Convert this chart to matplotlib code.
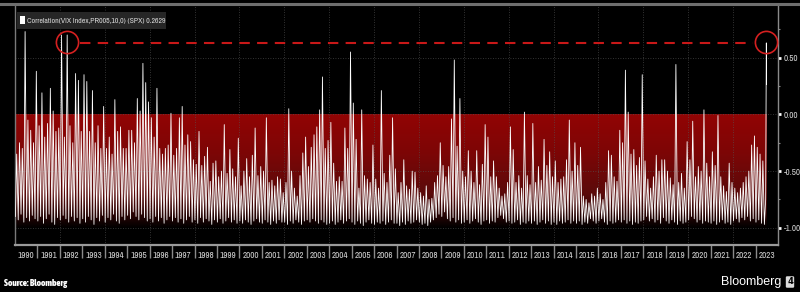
import numpy as np
import matplotlib.pyplot as plt
from matplotlib import font_manager
from matplotlib.font_manager import FontProperties
from matplotlib.colors import LinearSegmentedColormap
from matplotlib.lines import Line2D
from matplotlib.patches import Rectangle

# =========================
# Dados (8 blocos por ano: pico e vale de cada bloco)
# =========================
ano_inicial = 1990
anos_rotulo = list(range(1990, 2024))

picos_1990s = [
    [-0.35, -0.25, -0.30, 0.73, -0.05, -0.14, -0.25, 0.38],
    [-0.10, 0.19, -0.20, -0.08, 0.23, 0.03, -0.15, -0.12],
    [0.70, -0.20, 0.70, -0.10, -0.25, 0.36, 0.30, -0.15],
    [0.35, 0.29, -0.15, 0.21, -0.25, -0.10, -0.30, 0.07],
    [-0.30, -0.20, -0.35, 0.13, -0.15, -0.11, -0.30, -0.30],
    [-0.14, -0.14, -0.25, 0.14, 0.03, 0.45, 0.28, 0.11],
    [-0.03, -0.20, 0.23, -0.30, -0.35, -0.30, -0.27, 0.01],
    [-0.36, -0.30, -0.03, 0.07, -0.27, -0.18, -0.24, -0.40],
    [-0.44, -0.15, -0.45, -0.37, -0.29, -0.59, -0.43, -0.41],
    [-0.55, -0.50, -0.09, -0.52, -0.31, -0.48, -0.55, -0.21],
]
picos_2000s = [
    [-0.63, -0.50, -0.39, -0.55, -0.36, -0.12, -0.54, -0.46],
    [-0.50, -0.03, -0.60, -0.58, -0.63, -0.55, -0.57, -0.69],
    [-0.60, 0.05, -0.50, -0.65, -0.72, -0.54, -0.34, -0.20],
    [-0.46, -0.29, -0.18, -0.11, 0.04, 0.33, -0.30, -0.23],
    [-0.07, -0.43, -0.59, -0.55, -0.59, -0.12, -0.30, 0.55],
    [0.10, -0.22, -0.65, 0.04, -0.54, -0.57, -0.60, -0.27],
    [-0.57, -0.65, 0.21, -0.52, -0.60, -0.36, -0.03, -0.48],
    [-0.69, -0.60, -0.40, -0.63, -0.66, -0.50, -0.51, -0.65],
    [-0.69, -0.72, -0.63, -0.75, -0.74, -0.60, -0.54, -0.25],
    [-0.45, -0.55, -0.46, -0.04, 0.48, -0.28, 0.14, -0.50],
]
picos_2010s = [
    [-0.55, -0.32, -0.50, -0.60, -0.32, -0.62, -0.44, -0.09],
    [-0.20, -0.55, -0.41, -0.55, -0.65, -0.72, -0.70, -0.60],
    [-0.11, -0.31, -0.60, -0.54, -0.65, 0.02, -0.54, -0.62],
    [-0.08, -0.60, -0.46, -0.58, -0.22, -0.45, -0.33, -0.55],
    [-0.41, -0.60, -0.57, -0.55, -0.40, -0.05, -0.50, -0.25],
    [-0.45, -0.29, -0.72, -0.75, -0.78, -0.70, -0.72, -0.65],
    [-0.70, -0.75, -0.60, -0.32, -0.36, -0.55, -0.59, -0.14],
    [-0.25, 0.39, 0.02, -0.35, -0.31, -0.45, -0.38, 0.35],
    [-0.41, -0.57, -0.65, -0.55, -0.36, -0.50, -0.40, -0.40],
    [-0.50, -0.56, -0.62, 0.44, -0.60, -0.52, -0.65, -0.24],
]
picos_2020s = [
    [-0.40, -0.06, -0.55, -0.46, -0.50, 0.04, -0.43, -0.55],
    [-0.33, -0.45, -0.01, -0.55, -0.63, -0.68, -0.43, -0.60],
    [-0.65, -0.69, -0.65, -0.60, -0.55, -0.50, -0.27, -0.19],
    [-0.29, -0.35, -0.41, -0.75],
]

vales_1990s = [
    [-0.90, -0.93, -0.88, -0.95, -0.91, -0.94, -0.89, -0.92],
    [-0.94, -0.90, -0.96, -0.92, -0.88, -0.95, -0.97, -0.91],
    [-0.93, -0.89, -0.92, -0.95, -0.90, -0.94, -0.91, -0.96],
    [-0.92, -0.95, -0.90, -0.93, -0.97, -0.91, -0.94, -0.89],
    [-0.95, -0.91, -0.93, -0.88, -0.94, -0.96, -0.90, -0.93],
    [-0.89, -0.92, -0.86, -0.90, -0.93, -0.88, -0.91, -0.94],
    [-0.92, -0.95, -0.90, -0.94, -0.91, -0.96, -0.93, -0.90],
    [-0.94, -0.91, -0.95, -0.92, -0.96, -0.93, -0.90, -0.95],
    [-0.93, -0.96, -0.91, -0.95, -0.92, -0.94, -0.97, -0.93],
    [-0.95, -0.92, -0.96, -0.94, -0.91, -0.95, -0.93, -0.96],
]
vales_2000s = [
    [-0.94, -0.96, -0.93, -0.95, -0.97, -0.94, -0.92, -0.95],
    [-0.96, -0.93, -0.95, -0.97, -0.94, -0.96, -0.93, -0.95],
    [-0.95, -0.97, -0.94, -0.96, -0.93, -0.95, -0.97, -0.94],
    [-0.93, -0.95, -0.92, -0.94, -0.96, -0.93, -0.95, -0.97],
    [-0.96, -0.94, -0.97, -0.95, -0.93, -0.96, -0.94, -0.92],
    [-0.95, -0.97, -0.94, -0.96, -0.98, -0.95, -0.93, -0.96],
    [-0.97, -0.95, -0.96, -0.94, -0.97, -0.95, -0.93, -0.96],
    [-0.96, -0.98, -0.95, -0.97, -0.94, -0.96, -0.95, -0.93],
    [-0.95, -0.97, -0.96, -0.98, -0.95, -0.93, -0.91, -0.88],
    [-0.90, -0.86, -0.92, -0.94, -0.91, -0.95, -0.93, -0.96],
]
vales_2010s = [
    [-0.95, -0.93, -0.96, -0.94, -0.92, -0.95, -0.97, -0.94],
    [-0.93, -0.96, -0.94, -0.95, -0.91, -0.89, -0.92, -0.95],
    [-0.94, -0.96, -0.95, -0.93, -0.97, -0.95, -0.96, -0.94],
    [-0.96, -0.94, -0.97, -0.95, -0.93, -0.96, -0.94, -0.97],
    [-0.95, -0.97, -0.94, -0.96, -0.95, -0.93, -0.96, -0.94],
    [-0.96, -0.94, -0.97, -0.95, -0.96, -0.92, -0.94, -0.96],
    [-0.94, -0.92, -0.95, -0.97, -0.94, -0.96, -0.95, -0.93],
    [-0.95, -0.93, -0.96, -0.94, -0.97, -0.95, -0.96, -0.94],
    [-0.93, -0.90, -0.94, -0.92, -0.95, -0.93, -0.96, -0.91],
    [-0.94, -0.96, -0.93, -0.95, -0.97, -0.94, -0.96, -0.95],
]
vales_2020s = [
    [-0.93, -0.90, -0.92, -0.95, -0.93, -0.96, -0.94, -0.95],
    [-0.96, -0.94, -0.97, -0.95, -0.93, -0.96, -0.95, -0.97],
    [-0.94, -0.92, -0.95, -0.91, -0.93, -0.90, -0.94, -0.92],
    [-0.95, -0.93, -0.96, -0.97],
]

ultimo_pico = 0.63
ultimo_valor = 0.2629
nivel_destaque = 0.63
legenda = "Correlation(VIX Index,PR005,10,0) (SPX) 0.2629"

# =========================
# Montagem da série
# =========================
picos = sum(picos_1990s + picos_2000s + picos_2010s + picos_2020s, [])
vales = sum(vales_1990s + vales_2000s + vales_2010s + vales_2020s, [])
n = len(picos)
t_vale = ano_inicial + (np.arange(n) + 0.15) / 8
t_pico = ano_inicial + (np.arange(n) + 0.6) / 8
tempo = np.column_stack([t_vale, t_pico]).ravel()
sinal = np.column_stack([vales, picos]).ravel()
t_fim = tempo[-1] + 0.03
tempo = np.append(tempo, [t_fim, t_fim + 0.01])
sinal = np.append(sinal, [ultimo_pico, ultimo_valor])


# =========================
# Fonte estreita (se houver)
# =========================
def acha_fonte(negrito=False):
    melhores = []
    for f in font_manager.fontManager.ttflist:
        estreita = ("Narrow" in f.name or "Condensed" in f.name
                    or str(f.stretch) in ("condensed", "semi-condensed", "75", "87"))
        if not estreita or f.style != "normal":
            continue
        peso = f.weight if isinstance(f.weight, int) else (700 if "bold" in str(f.weight) else 400)
        if negrito and peso < 600:
            continue
        if not negrito and peso != 400:
            continue
        melhores.append(f)
    melhores.sort(key=lambda f: (0 if "Liberation" in f.name else 1, f.name))
    if melhores:
        return FontProperties(fname=melhores[0].fname), True
    return FontProperties(family="Liberation Sans",
                          weight="bold" if negrito else "normal"), False


fonte, estreita = acha_fonte()
fonte_b, estreita_b = acha_fonte(True)
esc = 1.0 if estreita else 0.8
esc_b = 1.0 if estreita_b else 0.8

# =========================
# Figura
# =========================
W, H = 800, 292
fig = plt.figure(figsize=(8, 2.92), dpi=100, facecolor="black")
ax = fig.add_axes([15 / W, 1 - 244.5 / H, (778 - 15) / W, (244.5 - 4) / H])
ax.set_facecolor("black")
ax.set_xlim(1990, 2024)
ax.set_ylim(-1.147, 0.973)

# faixa vermelha com degradê (0 a -1)
cores = LinearSegmentedColormap.from_list(
    "faixa", [(0, "#000000"), (0.1, "#240404"), (0.3, "#5a0a0a"),
              (0.65, "#7c0606"), (1, "#920404")])
grad = np.linspace(0, 1, 256).reshape(-1, 1)
ax.imshow(grad, extent=[1990, tempo[-1], -1.0, 0.0], origin="lower",
          cmap=cores, aspect="auto", zorder=1, interpolation="bicubic")

# grade pontilhada
cinza = "#555555"
for v in [0.5, 0.0, -0.5, -1.0]:
    ax.axhline(v, color=cinza, lw=0.6, ls=(0, (1, 2)), zorder=2, alpha=0.8)
for a in range(1992, 2024, 2):
    ax.axvline(a, color=cinza, lw=0.6, ls=(0, (1, 2)), zorder=2, alpha=0.8)

ax.plot(tempo, sinal, color="white", lw=0.6, zorder=3)

# destaques: círculos e linha tracejada
i_1992 = 2 * (2 * 8 + 2) + 1
x1 = tempo[i_1992]
x2 = tempo[-2]
vermelho = "#d42020"
ax.plot([x1, x2], [nivel_destaque + 0.01, nivel_destaque + 0.005], "o", ms=16,
        mfc="none", mec=vermelho, mew=1.2, zorder=5)
ax.plot([x1 + 0.58, x2 - 0.58], [nivel_destaque, nivel_destaque],
        color="#c81818", lw=1.5, ls=(0, (5, 3.5)), zorder=4)

# eixos
for lado in ["top", "left"]:
    ax.spines[lado].set_color("#7a7a7a")
    ax.spines[lado].set_linewidth(1)
ax.spines["bottom"].set_color("#9a9a9a")
ax.spines["bottom"].set_linewidth(1.6)
ax.spines["right"].set_color("#8a8a8a")
ax.spines["right"].set_linewidth(1)

ax.set_xticks(range(1991, 2024))
ax.set_xticklabels([])
ax.tick_params(axis="x", which="major", length=9, width=1, color="#8a8a8a",
               direction="out")
ax.set_xticks([a + 0.5 for a in anos_rotulo], minor=True)
ax.set_xticklabels([str(a) for a in anos_rotulo], minor=True,
                   color="#d0d0d0", fontproperties=fonte)
ax.tick_params(axis="x", which="minor", length=0, pad=5)
for r in ax.get_xticklabels(minor=True):
    r.set_fontsize(6.6 * esc)

ax.yaxis.tick_right()
ax.set_yticks([0.5, 0.0, -0.5, -1.0])
ax.set_yticklabels(["0.50", "0.00", "-0.50", "-1.00"], color="#d0d0d0",
                   fontproperties=fonte)
for r in ax.get_yticklabels():
    r.set_fontsize(6.6 * esc)
ax.set_yticks([0.75, 0.25, -0.25, -0.75], minor=True)
ax.tick_params(axis="y", which="major", length=2.5, width=2, color="white",
               pad=1.5)
ax.tick_params(axis="y", which="minor", length=1.5, width=0.8, color="#8a8a8a")

# linha superior que atravessa a figura
fig.add_artist(Line2D([0, 1], [1 - 4.3 / H, 1 - 4.3 / H], color="#6e6e6e",
                      lw=2.2, transform=fig.transFigure))

# legenda
fig.add_artist(Rectangle((17 / W, 1 - 29 / H), 149 / W, 17 / H,
                         transform=fig.transFigure, fc="#262626", ec="none"))
fig.add_artist(Rectangle((19.5 / W, 1 - 24 / H), 5 / W, 8 / H,
                         transform=fig.transFigure, fc="white", ec="none"))
t = fig.text(27 / W, 1 - 20.5 / H, legenda, color="#d8d8d8",
             va="center", ha="left", fontproperties=fonte)
t.set_fontsize(5.6 * esc)

s = fig.text(4 / W, 1 - 283 / H, "Source: Bloomberg", color="white",
             va="center", ha="left", fontproperties=fonte_b)
s.set_fontsize(6.6 * esc_b)
fig.text(781 / W, 1 - 282 / H, "Bloomberg", fontsize=9, color="white",
         va="center", ha="right", family="Liberation Sans")
fig.text(790 / W, 1 - 282 / H, "4", fontsize=6, color="black", weight="bold",
         va="center", ha="center", family="DejaVu Sans",
         bbox=dict(boxstyle="round,pad=0.15", fc="#dcdcdc", ec="none"))

plt.savefig("out.png", dpi=100, facecolor="black")
